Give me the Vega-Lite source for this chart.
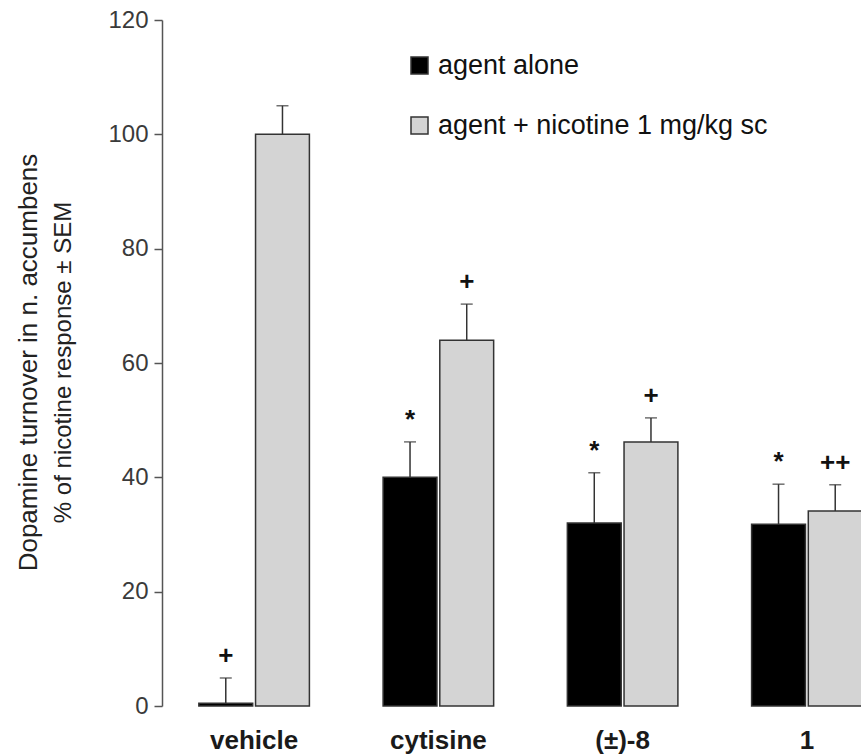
{
  "$schema": "https://vega.github.io/schema/vega-lite/v6.json",
  "width": 699,
  "height": 686,
  "autosize": {"type": "none"},
  "padding": {"left": 162, "top": 20, "right": 0, "bottom": 49},
  "background": "white",
  "config": {"view": {"stroke": null}, "font": "Liberation Sans", "axis": {"grid": false}},
  "data": {"values": [
    {"agent": "vehicle", "group": "agent alone", "value": 0.5, "err": 4.9, "sig": "+"},
    {"agent": "vehicle", "group": "agent +  nicotine 1 mg/kg sc", "value": 100, "err": 105, "sig": ""},
    {"agent": "cytisine", "group": "agent alone", "value": 40, "err": 46.2, "sig": "*"},
    {"agent": "cytisine", "group": "agent +  nicotine 1 mg/kg sc", "value": 64, "err": 70.3, "sig": "+"},
    {"agent": "(±)-8", "group": "agent alone", "value": 32, "err": 40.8, "sig": "*"},
    {"agent": "(±)-8", "group": "agent +  nicotine 1 mg/kg sc", "value": 46.2, "err": 50.4, "sig": "+"},
    {"agent": "1", "group": "agent alone", "value": 31.8, "err": 38.8, "sig": "*"},
    {"agent": "1", "group": "agent +  nicotine 1 mg/kg sc", "value": 34.1, "err": 38.7, "sig": "++"}
  ]},
  "encoding": {
    "x": {
      "field": "agent", "type": "nominal",
      "sort": ["vehicle", "cytisine", "(±)-8", "1"],
      "scale": {"range": [0, 737], "paddingInner": 0.4, "paddingOuter": 0.2},
      "axis": {"title": null, "ticks": false, "domain": false, "labelAngle": 0, "labelFontSize": 26, "labelFontWeight": "bold", "labelColor": "#1a1a1a", "labelPadding": 21, "labelBaseline": "top"}
    },
    "xOffset": {
      "field": "group", "type": "nominal",
      "sort": ["agent alone", "agent +  nicotine 1 mg/kg sc"],
      "scale": {"paddingInner": 0.05}
    }
  },
  "layer": [
    {
      "mark": {"type": "bar", "stroke": "#333333", "strokeWidth": 1.5},
      "encoding": {
        "y": {
          "field": "value", "type": "quantitative",
          "scale": {"domain": [0, 120], "nice": false},
          "axis": {
            "title": "% of nicotine response ± SEM",
            "titleFontSize": 24, "titleFontWeight": "normal", "titleColor": "#222222",
            "titleX": -92, "titleY": 342, "titleAngle": -90, "titleAlign": "center", "titleBaseline": "alphabetic",
            "values": [0, 20, 40, 60, 80, 100, 120],
            "labelFontSize": 24, "labelColor": "#3a3a3a", "labelPadding": 6,
            "tickSize": 8, "tickColor": "#555555", "tickWidth": 1.5,
            "domainColor": "#555555", "domainWidth": 1.5, "grid": false
          }
        },
        "fill": {
          "field": "group", "type": "nominal",
          "scale": {"domain": ["agent alone", "agent +  nicotine 1 mg/kg sc"], "range": ["#000000", "#d4d4d4"]},
          "legend": {
            "orient": "none", "legendX": 244, "legendY": 32, "title": null,
            "labelFontSize": 27, "labelColor": "#111111", "labelLimit": 600,
            "symbolType": "square", "symbolSize": 289, "symbolStrokeColor": "#333333", "symbolStrokeWidth": 1.5,
            "rowPadding": 32, "labelOffset": 5, "padding": 0
          }
        }
      }
    },
    {
      "mark": {"type": "rule", "color": "#333333", "strokeWidth": 1.5},
      "encoding": {
        "y": {
          "field": "value", "type": "quantitative",
          "scale": {"domain": [0, 120], "nice": false},
          "axis": {
            "orient": "left", "title": "Dopamine turnover in n. accumbens",
            "titleFontSize": 26, "titleFontWeight": "normal", "titleColor": "#222222",
            "titleX": -126, "titleY": 342, "titleAngle": -90, "titleAlign": "center", "titleBaseline": "alphabetic",
            "labels": false, "ticks": false, "domain": false, "grid": false
          }
        },
        "y2": {"field": "err"}
      }
    },
    {
      "mark": {"type": "tick", "color": "#333333", "thickness": 1.5, "size": 12, "orient": "horizontal"},
      "encoding": {
        "y": {"field": "err", "type": "quantitative", "axis": null}
      }
    },
    {
      "mark": {"type": "text", "fontSize": 26, "fontWeight": "bold", "dy": -22, "baseline": "middle", "color": "#111111"},
      "encoding": {
        "y": {"field": "err", "type": "quantitative", "axis": null},
        "text": {"field": "sig"}
      }
    }
  ],
  "resolve": {"axis": {"y": "independent"}}
}
